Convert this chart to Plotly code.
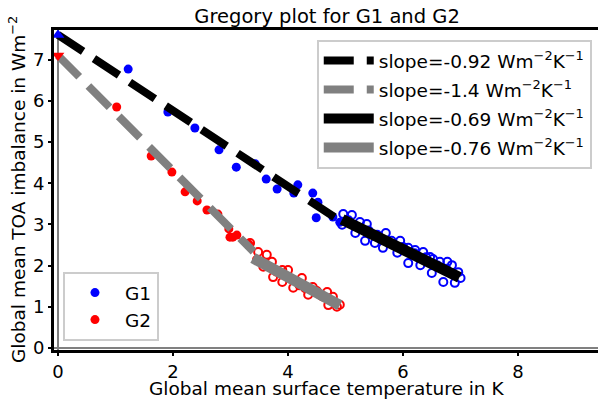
import plotly.graph_objects as go

# ---- data ----
g1_start = [0.0, 7.60]
g2_start = [0.0, 7.10]

g1_early_x = [1.22, 1.91, 2.38, 2.80, 3.10, 3.43, 3.62, 3.81, 4.10, 4.17, 4.43, 4.52, 4.49, 4.78, 4.90]
g1_early_y = [6.77, 5.73, 5.34, 4.81, 4.39, 4.47, 4.10, 3.86, 3.76, 3.96, 3.76, 3.54, 3.16, 3.18, 3.05]

g1_late_x = [4.96, 5.11, 4.94, 5.25, 5.37, 5.17, 5.34, 5.51, 5.70, 5.65, 5.95, 5.90, 6.09, 6.21,
             6.09, 6.35, 6.30, 6.47, 6.52, 6.50, 6.64, 6.77, 6.70, 6.85, 6.90, 6.96, 6.82,
             5.40, 5.80, 6.20, 6.60, 7.00, 5.05, 5.55, 6.00, 6.40, 6.75]
g1_late_y = [3.25, 3.23, 2.99, 3.06, 3.01, 2.79, 2.60, 2.55, 2.79, 2.43, 2.60, 2.31, 2.43, 2.38,
             2.06, 2.33, 2.01, 2.21, 2.16, 1.82, 2.09, 2.09, 1.60, 2.01, 1.58, 1.84, 1.82,
             2.85, 2.60, 2.30, 2.00, 1.70, 3.10, 2.75, 2.45, 2.20, 1.92]

g2_early_x = [1.02, 1.62, 1.98, 2.21, 2.42, 2.59, 2.78, 2.97, 3.04, 3.11, 2.99, 3.32]
g2_early_y = [5.85, 4.66, 4.27, 3.79, 3.57, 3.35, 3.25, 2.89, 2.69, 2.74, 2.69, 2.52]

g2_late_x = [3.34, 3.48, 3.63, 3.72, 3.57, 3.74, 3.90, 4.00, 3.90, 4.16, 4.09, 4.24, 4.35, 4.43,
             4.56, 4.68, 4.70, 4.78, 4.85, 3.46, 3.80, 4.05, 4.30, 4.60, 4.90, 3.60, 4.20, 4.50]
g2_late_y = [2.55, 2.33, 2.26, 2.09, 1.97, 1.72, 1.89, 1.89, 1.60, 1.60, 1.46, 1.70, 1.29, 1.48,
             1.29, 1.36, 1.04, 1.24, 1.00, 2.14, 1.85, 1.68, 1.45, 1.25, 1.05, 2.05, 1.52, 1.38]

# regression fits: (label, intercept, slope, x range, colour, dash, width)
fits = [
    ("slope=-0.92 Wm<sup>−2</sup>K<sup>−1</sup>", 7.60, -0.92, [0.0, 4.90], "black", "dash", 8),
    ("slope=-1.4 Wm<sup>−2</sup>K<sup>−1</sup>", 7.10, -1.40, [0.0, 3.40], "gray", "dash", 8),
    ("slope=-0.69 Wm<sup>−2</sup>K<sup>−1</sup>", 6.53, -0.69, [4.94, 6.98], "black", "solid", 11),
    ("slope=-0.76 Wm<sup>−2</sup>K<sup>−1</sup>", 4.76, -0.76, [3.39, 4.90], "gray", "solid", 11),
]

title_text = "Gregory plot for G1 and G2"
xlabel = "Global mean surface temperature in K"
ylabel = "Global mean TOA imbalance in Wm<sup>−2</sup>"

FONT = "DejaVu Sans"
FS = 18.5
FS_TICK = 18
FS_LAB = 18.5
fig = go.Figure()

BLUE = "#0000ff"
RED = "#ff0000"

fig.add_trace(go.Scatter(x=g1_early_x, y=g1_early_y, mode="markers", name="G1",
                         marker=dict(color=BLUE, size=9), legend="legend2"))
fig.add_trace(go.Scatter(x=g2_early_x, y=g2_early_y, mode="markers", name="G2",
                         marker=dict(color=RED, size=9), legend="legend2"))
fig.add_trace(go.Scatter(x=g1_late_x, y=g1_late_y, mode="markers", showlegend=False,
                         marker=dict(color=BLUE, size=8, symbol="circle-open",
                                     line=dict(color=BLUE, width=2))))
fig.add_trace(go.Scatter(x=g2_late_x, y=g2_late_y, mode="markers", showlegend=False,
                         marker=dict(color=RED, size=8, symbol="circle-open",
                                     line=dict(color=RED, width=2))))

for i, (label, b, m, xr, col, dash, w) in enumerate(fits):
    ys = [b + m * xv for xv in xr]
    fig.add_trace(go.Scatter(x=xr, y=ys, mode="lines", name=label,
                             legendgroup=f"g{i}",
                             line=dict(color=col, width=w,
                                       dash="30px,13px" if dash == "dash" else "solid")))

fig.add_trace(go.Scatter(x=[g1_start[0]], y=[g1_start[1]], mode="markers", showlegend=False,
                         marker=dict(color=BLUE, size=11, symbol="triangle-up")))
fig.add_trace(go.Scatter(x=[g2_start[0]], y=[g2_start[1]], mode="markers", showlegend=False,
                         marker=dict(color=RED, size=11, symbol="triangle-down")))

axis_common = dict(showgrid=False, ticks="outside", ticklen=3, tickwidth=2, tickcolor="black",
                   showline=True, linecolor="black", linewidth=3,
                   zeroline=True, zerolinecolor="gray", zerolinewidth=2,
                   tickfont=dict(family=FONT, size=FS_TICK, color="black"))

fig.update_layout(
    width=598, height=399,
    margin=dict(l=54, r=0, t=30, b=49),
    plot_bgcolor="white", paper_bgcolor="white",
    font=dict(family=FONT, size=FS, color="black"),
    title=dict(text=title_text, x=0.547, xanchor="center",
               y=1 - 16 / 399, yanchor="middle", font=dict(family=FONT, size=19.5, color="black")),
    xaxis=dict(range=[-0.07, 9.39], tickvals=[0, 2, 4, 6, 8], mirror=True, **axis_common),
    yaxis=dict(range=[-0.05, 7.72], tickvals=[0, 1, 2, 3, 4, 5, 6, 7], **axis_common),
    legend=dict(x=0.483, y=0.969, xanchor="left", yanchor="top",
                bgcolor="rgba(255,255,255,0.85)", bordercolor="#cccccc", borderwidth=2,
                font=dict(family=FONT, size=FS), tracegroupgap=2, itemwidth=50),
    legend2=dict(x=0.0165, y=0.028, xanchor="left", yanchor="bottom",
                 bgcolor="rgba(255,255,255,0.85)", bordercolor="#cccccc", borderwidth=2,
                 font=dict(family=FONT, size=FS), itemwidth=50),
    showlegend=True,
    annotations=[
        dict(text=xlabel, xref="paper", yref="paper", x=0.5, y=-38.5 / 320,
             xanchor="center", yanchor="middle", showarrow=False,
             font=dict(family=FONT, size=FS_LAB, color="black")),
        dict(text=ylabel, xref="paper", yref="paper", x=-37 / 544, y=0.5, textangle=-90,
             xanchor="center", yanchor="middle", showarrow=False,
             font=dict(family=FONT, size=FS_LAB, color="black")),
    ],
)

fig.write_html("out.html")
